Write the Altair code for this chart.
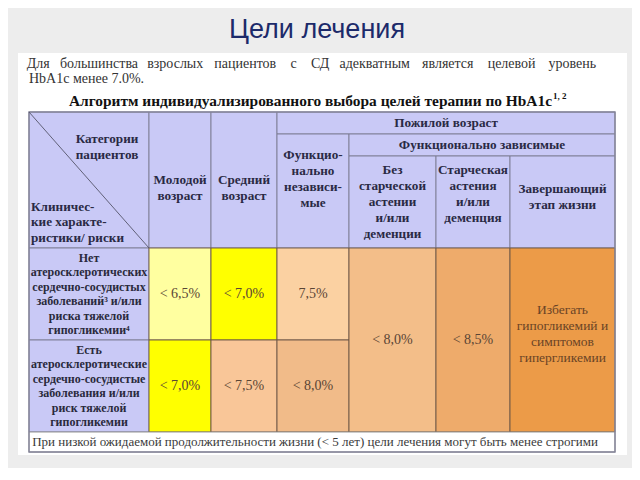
import altair as alt
import pandas as pd

# ---------------- content ----------------
TITLE = "Цели лечения"
INTRO_WORDS = ["Для", "большинства", "взрослых", "пациентов", "с", "СД",
               "адекватным", "является", "целевой", "уровень"]
INTRO_LINE2 = "HbA1c менее 7.0%."
TABLE_TITLE = "Алгоритм индивидуализированного выбора целей терапии по HbA1c"
TABLE_TITLE_REFS = "1, 2"
CORNER_TOP = "Категории\nпациентов"
CORNER_BOTTOM = "Клиничес-\nкие характе-\nристики/ риски"
AGE_GROUPS = ["Молодой\nвозраст", "Средний\nвозраст"]
ELDERLY = "Пожилой возраст"
ELDERLY_INDEP = "Функцио-\nнально\nнезависи-\nмые"
ELDERLY_DEP = "Функционально зависимые"
DEP_GROUPS = ["Без\nстарческой\nастении\nи/или\nдеменции",
              "Старческая\nастения\nи/или\nдеменция",
              "Завершающий\nэтап жизни"]
RISK_ROWS = ["Нет\nатеросклеротических\nсердечно-сосудистых\nзаболеваний³ и/или\nриска тяжелой\nгипогликемии⁴",
             "Есть\nатеросклеротические\nсердечно-сосудистые\nзаболевания и/или\nриск тяжелой\nгипогликемии"]
TARGETS_NO_RISK = ["< 6,5%", "< 7,0%", "7,5%"]
TARGETS_RISK = ["< 7,0%", "< 7,5%", "< 8,0%"]
TARGETS_DEPENDENT = ["< 8,0%", "< 8,5%"]
TARGET_END_OF_LIFE = "Избегать\nгипогликемий и\nсимптомов\nгипергликемии"
FOOTNOTE = "При низкой ожидаемой продолжительности жизни (< 5 лет) цели лечения могут быть менее строгими"

# ---------------- layout (slide grid) ----------------
COL_EDGES = [29, 149, 211, 277, 349, 436, 510, 615]
ROW_EDGES = [112, 134, 156, 248, 340, 432, 452]
PANEL = [18, 627, 53, 455]

# ---------------- styles ----------------
BG = "#ededed"
LAV = "#c9c9f6"
C_SOFT_YELLOW = "#ffffa0"
C_YELLOW = "#ffff00"
C_PEACH1 = "#fbd1a2"
C_PEACH2 = "#f9c698"
C_PEACH3 = "#f1bb89"
C_DEP1 = "#f3be89"
C_DEP2 = "#eeab6b"
C_DEP3 = "#ec9b48"
HDR_STROKE = "#7c7c92"
DATA_STROKE = "#6b5646"
SERIF = "Liberation Serif, Times New Roman, DejaVu Serif, serif"
SANS = "Liberation Sans, Arial, sans-serif"

XS = alt.Scale(domain=[8, 632], nice=False, zero=False)
YS = alt.Scale(domain=[8, 468], nice=False, zero=False, reverse=True)


def xc(c0, c1):
    return (COL_EDGES[c0] + COL_EDGES[c1]) / 2


def yc(r0, r1):
    return (ROW_EDGES[r0] + ROW_EDGES[r1]) / 2


# ---------------- cells ----------------
cell_specs = [
    (0, 1, 0, 3, LAV, HDR_STROKE),
    (1, 2, 0, 3, LAV, HDR_STROKE),
    (2, 3, 0, 3, LAV, HDR_STROKE),
    (3, 7, 0, 1, LAV, HDR_STROKE),
    (3, 4, 1, 3, LAV, HDR_STROKE),
    (4, 7, 1, 2, LAV, HDR_STROKE),
    (4, 5, 2, 3, LAV, HDR_STROKE),
    (5, 6, 2, 3, LAV, HDR_STROKE),
    (6, 7, 2, 3, LAV, HDR_STROKE),
    (0, 1, 3, 4, LAV, HDR_STROKE),
    (0, 1, 4, 5, LAV, HDR_STROKE),
    (1, 2, 3, 4, C_SOFT_YELLOW, DATA_STROKE),
    (2, 3, 3, 4, C_YELLOW, DATA_STROKE),
    (3, 4, 3, 4, C_PEACH1, DATA_STROKE),
    (1, 2, 4, 5, C_YELLOW, DATA_STROKE),
    (2, 3, 4, 5, C_PEACH2, DATA_STROKE),
    (3, 4, 4, 5, C_PEACH3, DATA_STROKE),
    (4, 5, 3, 5, C_DEP1, DATA_STROKE),
    (5, 6, 3, 5, C_DEP2, DATA_STROKE),
    (6, 7, 3, 5, C_DEP3, DATA_STROKE),
    (0, 7, 5, 6, "#ffffff", "#8c8c8c"),
]
cells = pd.DataFrame([
    dict(x=COL_EDGES[a], x2=COL_EDGES[b], y=ROW_EDGES[c], y2=ROW_EDGES[d], fill=f, stroke=s)
    for a, b, c, d, f, s in cell_specs
])

panel = pd.DataFrame([dict(x=PANEL[0], x2=PANEL[1], y=PANEL[2], y2=PANEL[3])])
outline = pd.DataFrame([dict(x=COL_EDGES[0], x2=COL_EDGES[-1], y=ROW_EDGES[0], y2=ROW_EDGES[-1])])
diag = pd.DataFrame([dict(x=COL_EDGES[0], x2=COL_EDGES[1], y=ROW_EDGES[0], y2=ROW_EDGES[3])])

X = alt.X("x:Q", scale=XS, axis=None)
Y = alt.Y("y:Q", scale=YS, axis=None)


def rect_layer(df, **kw):
    return alt.Chart(df).mark_rect(**kw).encode(x=X, x2="x2:Q", y=Y, y2="y2:Q")


def text_layer(rows, lineHeight=16, **kw):
    # rows: (x, centre y of the text block, text); first line is placed so the block is centred
    recs = []
    for a, b, c in rows:
        n = c.count("\n") + 1
        recs.append(dict(x=a, y=b - (n - 1) * lineHeight / 2, t=c))
    df = pd.DataFrame(recs)
    return alt.Chart(df).mark_text(lineBreak="\n", lineHeight=lineHeight, **kw).encode(
        x=X, y=Y, text="t:N")


layers = []
layers.append(rect_layer(panel, color="#ffffff"))
layers.append(
    alt.Chart(cells).mark_rect(strokeWidth=0.9).encode(
        x=X, x2="x2:Q", y=Y, y2="y2:Q",
        fill=alt.Fill("fill:N", scale=None),
        stroke=alt.Stroke("stroke:N", scale=None),
    )
)
layers.append(rect_layer(outline, filled=False, stroke="#85859a", strokeWidth=1.4))
layers.append(
    alt.Chart(diag).mark_rule(color="#55556a", strokeWidth=0.9).encode(
        x=X, x2="x2:Q", y=Y, y2="y2:Q")
)

# title
layers.append(text_layer([(317, 30, TITLE)], font=SANS, fontSize=27,
                         color="#1c2a6a", baseline="middle", align="center"))

# justified intro line
cw = 6.2
widths = [len(w) * cw for w in INTRO_WORDS]
left, right = 29, 594
gap = (right - left - sum(widths)) / (len(INTRO_WORDS) - 1)
pos = []
cur = left
for w, wd in zip(INTRO_WORDS, widths):
    pos.append((cur + wd / 2, 64, w))
    cur += wd + gap
layers.append(text_layer(pos, font=SERIF, fontSize=14, color="#333333",
                         baseline="middle", align="center"))
layers.append(text_layer([(29, 79, INTRO_LINE2)], font=SERIF, fontSize=14,
                         color="#333333", baseline="middle", align="left"))

# table title
layers.append(text_layer([(552, 101, TABLE_TITLE)], font=SERIF, fontSize=15.4, fontWeight="bold",
                         color="#111111", baseline="middle", align="right"))
layers.append(text_layer([(553, 96, TABLE_TITLE_REFS)], font=SERIF, fontSize=9, fontWeight="bold",
                         color="#111111", baseline="middle", align="left"))

# header texts
hdr = [
    (xc(1, 2), yc(0, 3) + 8, AGE_GROUPS[0]),
    (xc(2, 3), yc(0, 3) + 8, AGE_GROUPS[1]),
    (xc(3, 7), yc(0, 1), ELDERLY),
    (xc(3, 4), yc(1, 3) - 12, ELDERLY_INDEP),
    (xc(4, 7), yc(1, 2), ELDERLY_DEP),
    (xc(4, 5), yc(2, 3), DEP_GROUPS[0]),
    (xc(5, 6), yc(2, 3) - 8, DEP_GROUPS[1]),
    (xc(6, 7), yc(2, 3) - 5, DEP_GROUPS[2]),
    (xc(0, 1) + 18, yc(0, 3) - 33, CORNER_TOP),
]
layers.append(text_layer(hdr, font=SERIF, fontSize=13.2, fontWeight="bold", lineHeight=16,
                         color="#2a2a44", baseline="middle", align="center"))
layers.append(text_layer([(COL_EDGES[0] + 2, yc(0, 3) + 42, CORNER_BOTTOM)], font=SERIF,
                         fontSize=13.2, fontWeight="bold", lineHeight=15.5,
                         color="#2a2a44", baseline="middle", align="left"))

# row headers
rh = [(xc(0, 1), yc(3, 4), RISK_ROWS[0]), (xc(0, 1), yc(4, 5), RISK_ROWS[1])]
layers.append(text_layer(rh, font=SERIF, fontSize=12, fontWeight="bold", lineHeight=14.4,
                         color="#2a2a3c", baseline="middle", align="center"))

# values
vals = []
for i, v in enumerate(TARGETS_NO_RISK):
    vals.append((xc(i + 1, i + 2), yc(3, 4), v))
for i, v in enumerate(TARGETS_RISK):
    vals.append((xc(i + 1, i + 2), yc(4, 5), v))
for i, v in enumerate(TARGETS_DEPENDENT):
    vals.append((xc(i + 4, i + 5), yc(3, 5), v))
layers.append(text_layer(vals, font=SERIF, fontSize=14, color="#5a4535",
                         baseline="middle", align="center"))
layers.append(text_layer([(xc(6, 7), yc(3, 5) - 6, TARGET_END_OF_LIFE)], font=SERIF, fontSize=13.5,
                         lineHeight=15.7, color="#6a4426", baseline="middle", align="center"))

# footnote
layers.append(text_layer([(xc(0, 7) - 7, yc(5, 6), FOOTNOTE)], font=SERIF, fontSize=13,
                         color="#3a3a3a", baseline="middle", align="center"))

chart = alt.layer(*layers).properties(
    width=624, height=460,
    autosize=alt.AutoSizeParams(type="none"),
    padding=0,
    background=BG,
).configure_view(stroke=None)

chart.save("out.html", embed_options={"renderer": "svg", "actions": False})
